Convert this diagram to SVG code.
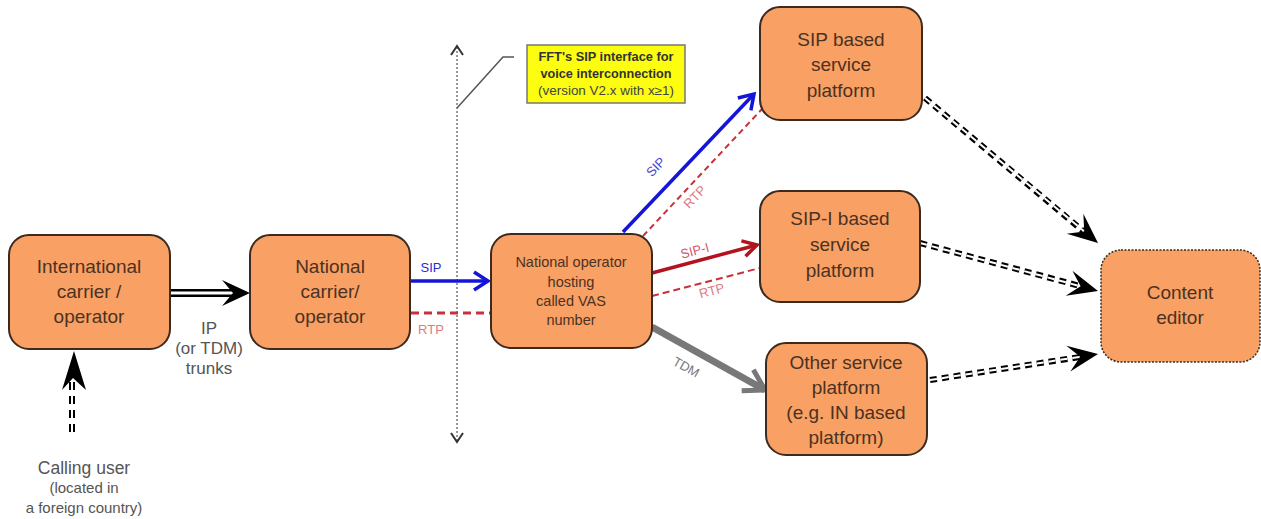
<svg xmlns="http://www.w3.org/2000/svg" width="1261" height="519" viewBox="0 0 1261 519">
<style>
.node{fill:#f9a064;stroke:#3d2a1e;stroke-width:2}
.nt{font-family:"Liberation Sans",Arial,sans-serif;fill:#4b3222;text-anchor:middle}
.big{font-size:19px}
.small{font-size:14.5px}
.lbl{font-family:"Liberation Sans",Arial,sans-serif;font-size:13px;text-anchor:middle}
.gt{font-family:"Liberation Sans",Arial,sans-serif;fill:#555;text-anchor:middle}
.ct{font-family:"Liberation Sans",Arial,sans-serif;font-size:12.5px;text-anchor:middle}
</style>
<defs>
<marker id="chevBlue" markerUnits="userSpaceOnUse" viewBox="-18 -12 22 24" refX="0" refY="0" markerWidth="22" markerHeight="24" orient="auto">
<path d="M-14,-9 L0,0 L-14,9" fill="none" stroke="#1515d8" stroke-width="3.5"/>
</marker>
<marker id="chevRed" markerUnits="userSpaceOnUse" viewBox="-18 -12 22 24" refX="0" refY="0" markerWidth="22" markerHeight="24" orient="auto">
<path d="M-14,-8 L0,0 L-14,8" fill="none" stroke="#b3121f" stroke-width="3.5"/>
</marker>
<marker id="chevGrey" markerUnits="userSpaceOnUse" viewBox="-26 -16 30 32" refX="0" refY="0" markerWidth="30" markerHeight="32" orient="auto">
<path d="M-20,-12 L0,0 L-20,12" fill="none" stroke="#787878" stroke-width="5"/>
</marker>
<marker id="stealth" markerUnits="userSpaceOnUse" viewBox="-32 -16 34 32" refX="0" refY="0" markerWidth="34" markerHeight="32" orient="auto">
<path d="M0,0 L-30,-13 L-18,0 L-30,13 Z" fill="#000"/>
</marker>
</defs>
<rect width="1261" height="519" fill="#fff"/>

<g id="connectors">
<!-- interface line -->
<line x1="457" y1="47" x2="457" y2="441" stroke="#777" stroke-width="1.5" stroke-dasharray="2,2"/>
<polyline points="451,55 457,46 463,55" fill="none" stroke="#333" stroke-width="2"/>
<polyline points="451,433 457,442 463,433" fill="none" stroke="#333" stroke-width="2"/>
<polyline points="457,108 503,57 514,57" fill="none" stroke="#555" stroke-width="1.5"/>

<!-- intl -> national -->
<line x1="170" y1="293" x2="236" y2="293" stroke="#000" stroke-width="8"/>
<line x1="170" y1="293" x2="238" y2="293" stroke="#fff" stroke-width="3"/>
<path d="M250,293 L222,280 L233,293 L222,306 Z" fill="#000"/>
<!-- calling user -->
<line x1="72" y1="432" x2="72" y2="372" stroke="#000" stroke-width="6" stroke-dasharray="8,6"/>
<line x1="72" y1="432" x2="72" y2="372" stroke="#fff" stroke-width="2" stroke-dasharray="8,6"/>
<path d="M74,351 L62,390 L73,378 L86,390 Z" fill="#000"/>

<!-- national -> hosting -->
<line x1="411" y1="281" x2="488" y2="281" stroke="#1515d8" stroke-width="3.5" marker-end="url(#chevBlue)"/>
<line x1="411" y1="313" x2="490" y2="313" stroke="#c8303c" stroke-width="3" stroke-dasharray="8,5"/>

<!-- hosting -> SIP platform -->
<line x1="623" y1="232" x2="754" y2="94" stroke="#1515d8" stroke-width="3.5" marker-end="url(#chevBlue)"/>
<line x1="643" y1="236" x2="762" y2="109" stroke="#c8303c" stroke-width="2" stroke-dasharray="6,4"/>

<!-- hosting -> SIP-I platform -->
<line x1="652" y1="273" x2="757" y2="245" stroke="#b3121f" stroke-width="3.5" marker-end="url(#chevRed)"/>
<line x1="652" y1="296" x2="760" y2="268" stroke="#c8303c" stroke-width="2" stroke-dasharray="7,4"/>

<!-- hosting -> other -->
<line x1="652" y1="327" x2="765" y2="390" stroke="#787878" stroke-width="7" marker-end="url(#chevGrey)"/>

<!-- to content editor -->
<line x1="925" y1="98" x2="1083" y2="231" stroke="#000" stroke-width="6" stroke-dasharray="7,5"/>
<line x1="925" y1="98" x2="1098" y2="243" stroke="#fff" stroke-width="2" stroke-dasharray="7,5" marker-end="url(#stealth)"/>
<line x1="920" y1="243" x2="1080" y2="286" stroke="#000" stroke-width="6" stroke-dasharray="7,5"/>
<line x1="920" y1="243" x2="1098" y2="291" stroke="#fff" stroke-width="2" stroke-dasharray="7,5" marker-end="url(#stealth)"/>
<line x1="930" y1="380" x2="1080" y2="357" stroke="#000" stroke-width="6" stroke-dasharray="7,5"/>
<line x1="930" y1="380" x2="1098" y2="354" stroke="#fff" stroke-width="2" stroke-dasharray="7,5" marker-end="url(#stealth)"/>

<!-- labels -->
<text class="gt" x="209" y="334" font-size="17">IP</text>
<text class="gt" x="209" y="354" font-size="17">(or TDM)</text>
<text class="gt" x="209" y="374" font-size="17">trunks</text>
<text class="lbl" x="431" y="272" fill="#2b2bd0">SIP</text>
<text class="lbl" x="431" y="334" fill="#e07a80">RTP</text>
<text class="lbl" fill="#4a4ad0" transform="translate(659,170) rotate(-46)">SIP</text>
<text class="lbl" fill="#e07a80" transform="translate(698,200) rotate(-46)">RTP</text>
<text class="lbl" fill="#d25a68" transform="translate(696,255) rotate(-15)">SIP-I</text>
<text class="lbl" fill="#e07a80" transform="translate(713,295) rotate(-15)">RTP</text>
<text class="lbl" fill="#777" transform="translate(684,371) rotate(29)">TDM</text>
<text class="gt" x="84" y="474" font-size="17.5">Calling user</text>
<text class="gt" x="84" y="493" font-size="15">(located in</text>
<text class="gt" x="84" y="513" font-size="15">a foreign country)</text>
</g>

<g id="callout">
<rect x="527" y="45" width="158" height="58" fill="#fdfd10" stroke="#777" stroke-width="1.5"/>
<text class="ct" x="606" y="61" font-weight="bold" fill="#333" textLength="135" lengthAdjust="spacingAndGlyphs">FFT's SIP interface for</text>
<text class="ct" x="606" y="78" font-weight="bold" fill="#333" textLength="131" lengthAdjust="spacingAndGlyphs">voice interconnection</text>
<text class="ct" x="606" y="95" fill="#444" textLength="136" lengthAdjust="spacingAndGlyphs">(version V2.x with x≥1)</text>
</g>

<g id="n-intl">
<rect class="node" x="9" y="235" width="161" height="114" rx="20"/>
<text class="nt big" x="89" y="273">International</text>
<text class="nt big" x="89" y="298">carrier /</text>
<text class="nt big" x="89" y="323">operator</text>
</g>
<g id="n-national">
<rect class="node" x="250" y="235" width="160" height="114" rx="20"/>
<text class="nt big" x="330" y="273">National</text>
<text class="nt big" x="330" y="298">carrier/</text>
<text class="nt big" x="330" y="323">operator</text>
</g>
<g id="n-hosting">
<rect class="node" x="491" y="234" width="161" height="114" rx="20"/>
<text class="nt small" x="571" y="267">National operator</text>
<text class="nt small" x="571" y="287">hosting</text>
<text class="nt small" x="571" y="306">called VAS</text>
<text class="nt small" x="571" y="325">number</text>
</g>
<g id="n-sip">
<rect class="node" x="760" y="7" width="162" height="113" rx="20"/>
<text class="nt big" x="841" y="46">SIP based</text>
<text class="nt big" x="841" y="71">service</text>
<text class="nt big" x="841" y="97">platform</text>
</g>
<g id="n-sipi">
<rect class="node" x="760" y="191" width="160" height="111" rx="20"/>
<text class="nt big" x="840" y="225">SIP-I based</text>
<text class="nt big" x="840" y="251">service</text>
<text class="nt big" x="840" y="277">platform</text>
</g>
<g id="n-other">
<rect class="node" x="766" y="343" width="161" height="112" rx="20"/>
<text class="nt big" x="846" y="369">Other service</text>
<text class="nt big" x="846" y="394">platform</text>
<text class="nt big" x="846" y="419">(e.g. IN based</text>
<text class="nt big" x="846" y="444">platform)</text>
</g>
<g id="n-content">
<rect x="1101" y="250" width="159" height="112" rx="20" fill="#f9a064" stroke="#3d2a1e" stroke-width="1.5" stroke-dasharray="2,1.5"/>
<text class="nt big" x="1180" y="299">Content</text>
<text class="nt big" x="1180" y="324">editor</text>
</g>
</svg>
